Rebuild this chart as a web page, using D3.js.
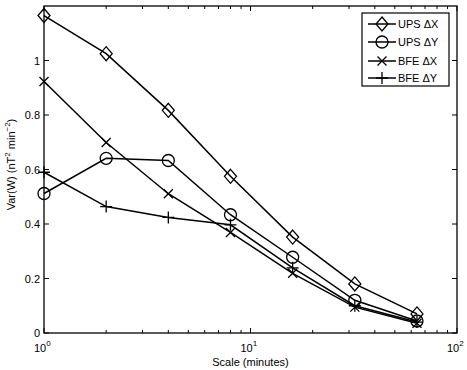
<!DOCTYPE html>
<html><head><meta charset="utf-8">
<script src="https://cdn.jsdelivr.net/npm/d3@7"></script>
<style>body{margin:0;background:#fff}svg{display:block;font-family:"Liberation Sans",Arial,sans-serif}</style>
</head><body><svg id="c" width="467" height="370"></svg>
<script>
const scales = [1, 2, 4, 8, 16, 32, 64];
const upsDX = [1.165, 1.025, 0.817, 0.575, 0.352, 0.18, 0.07];
const upsDY = [0.512, 0.641, 0.633, 0.434, 0.278, 0.12, 0.044];
const bfeDX = [0.923, 0.699, 0.511, 0.369, 0.219, 0.095, 0.036];
const bfeDY = [0.59, 0.464, 0.424, 0.397, 0.239, 0.1, 0.04];
const seriesNames = ["UPS \u0394X", "UPS \u0394Y", "BFE \u0394X", "BFE \u0394Y"];
const seriesMarkers = ["diamond", "circle", "x", "plus"];
const yTicks = [0, 0.2, 0.4, 0.6, 0.8, 1];
const xDecades = [1, 10, 100];

const svg = d3.select("#c");
const L = 44, R = 457, T = 6, B = 333;
const x = d3.scaleLog().domain([1, 100]).range([L, R]);
const y = d3.scaleLinear().domain([0, 1.2]).range([B, T]);

const series = [upsDX, upsDY, bfeDX, bfeDY];

function marker(g, type, cx, cy) {
  if (type === "diamond") {
    g.append("path").attr("d", `M${cx},${cy-7}L${cx+6},${cy}L${cx},${cy+7}L${cx-6},${cy}Z`)
      .attr("fill", "none").attr("stroke", "#000").attr("stroke-width", 1.3);
  } else if (type === "circle") {
    g.append("circle").attr("cx", cx).attr("cy", cy).attr("r", 6)
      .attr("fill", "none").attr("stroke", "#000").attr("stroke-width", 1.3);
  } else if (type === "x") {
    const s = 4.5;
    g.append("path").attr("d", `M${cx-s},${cy-s}L${cx+s},${cy+s}M${cx-s},${cy+s}L${cx+s},${cy-s}`)
      .attr("stroke", "#000").attr("stroke-width", 1.3);
  } else {
    const s = 6;
    g.append("path").attr("d", `M${cx-s},${cy}L${cx+s},${cy}M${cx},${cy-s}L${cx},${cy+s}`)
      .attr("stroke", "#000").attr("stroke-width", 1.3);
  }
}

// data lines
const line = d3.line().x((d, i) => x(scales[i])).y(d => y(d));
series.forEach((s, k) => {
  svg.append("path").attr("d", line(s)).attr("fill", "none").attr("stroke", "#000").attr("stroke-width", 1.5);
  const g = svg.append("g");
  s.forEach((v, i) => marker(g, seriesMarkers[k], x(scales[i]), y(v)));
});

// axes box
const ax = svg.append("g").attr("stroke", "#000").attr("fill", "none");
ax.append("rect").attr("x", L).attr("y", T).attr("width", R - L).attr("height", B - T).attr("stroke-width", 1.3);

// x ticks (log major and minor), inward on bottom and top
const minor = [];
for (let d = 1; d < 100; d *= 10) for (let m = 2; m <= 9; m++) minor.push(d * m);
minor.forEach(v => {
  ax.append("line").attr("x1", x(v)).attr("x2", x(v)).attr("y1", B).attr("y2", B - 3);
  ax.append("line").attr("x1", x(v)).attr("x2", x(v)).attr("y1", T).attr("y2", T + 3);
});
xDecades.forEach(v => {
  ax.append("line").attr("x1", x(v)).attr("x2", x(v)).attr("y1", B).attr("y2", B - 5);
  ax.append("line").attr("x1", x(v)).attr("x2", x(v)).attr("y1", T).attr("y2", T + 5);
});
// y ticks
yTicks.forEach(v => {
  ax.append("line").attr("x1", L).attr("x2", L + 5).attr("y1", y(v)).attr("y2", y(v));
  ax.append("line").attr("x1", R).attr("x2", R - 5).attr("y1", y(v)).attr("y2", y(v));
});

// tick labels
const fs = 11;
yTicks.forEach(v => {
  svg.append("text").attr("x", L - 4).attr("y", y(v) + 4).attr("text-anchor", "end")
    .attr("font-size", fs).text(d3.format("~g")(v));
});
xDecades.forEach(v => {
  const e = Math.round(Math.log10(v));
  const t = svg.append("text").attr("x", x(v) - 10).attr("y", B + 19).attr("font-size", fs);
  t.append("tspan").text("10");
  t.append("tspan").attr("dy", -6).attr("font-size", 8).text(e);
});

// axis labels
svg.append("text").attr("x", x(10)).attr("y", 366).attr("text-anchor", "middle").attr("font-size", fs).text("Scale (minutes)");
const yl = svg.append("text").attr("transform", `translate(15,${(T + B) / 2 - 5}) rotate(-90)`).attr("text-anchor", "middle").attr("font-size", fs);
yl.append("tspan").text("Var(W) (nT");
yl.append("tspan").attr("dy", -5).attr("font-size", 8).text("2");
yl.append("tspan").attr("dy", 5).text(" min");
yl.append("tspan").attr("dy", -5).attr("font-size", 8).text("\u22122");
yl.append("tspan").attr("dy", 5).text(")");

// legend
const lg = svg.append("g");
lg.append("rect").attr("x", 362).attr("y", 13).attr("width", 87).attr("height", 73)
  .attr("fill", "#fff").attr("stroke", "#000").attr("stroke-width", 1.2);
const rowsY = [24, 42, 61, 78];
seriesNames.forEach((n, k) => {
  const ry = rowsY[k];
  lg.append("line").attr("x1", 368).attr("x2", 396).attr("y1", ry).attr("y2", ry).attr("stroke", "#000").attr("stroke-width", 1.5);
  marker(lg, seriesMarkers[k], 382, ry);
  lg.append("text").attr("x", 398).attr("y", ry + 4).attr("font-size", fs).text(n);
});
</script></body></html>
